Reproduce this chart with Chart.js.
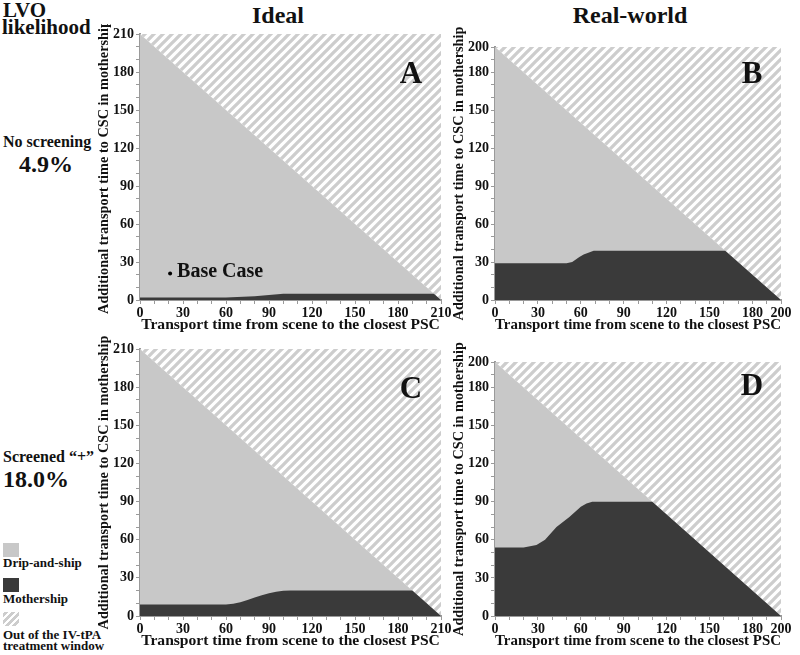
<!DOCTYPE html>
<html>
<head>
<meta charset="utf-8">
<script src="https://cdn.jsdelivr.net/npm/chart.js@4"></script>
<style>
  body { margin: 0; background: #fff; }
  #wrap { position: relative; width: 800px; height: 655px; font-family: "Liberation Serif", serif; font-weight: bold; color: #111; }
  #wrap canvas { position: absolute; }
  .t { position: absolute; line-height: 1; white-space: nowrap; }
  .sw { position: absolute; left: 3px; width: 16px; height: 14px; }
</style>
</head>
<body>
<div id="wrap">
  <div class="t" style="left:3px;top:0px;font-size:21px">LVO</div>
  <div class="t" style="left:2px;top:17px;font-size:21px">likelihood</div>
  <div class="t" style="left:3px;top:134px;font-size:16px">No screening</div>
  <div class="t" style="left:0;width:92px;text-align:center;top:152px;font-size:24px">4.9%</div>
  <div class="t" style="left:3px;top:449px;font-size:16px">Screened “+”</div>
  <div class="t" style="left:3px;top:467px;font-size:24px">18.0%</div>
  <div class="t" style="left:250px;width:56px;text-align:center;top:3px;font-size:24px">Ideal</div>
  <div class="t" style="left:560px;width:140px;text-align:center;top:3px;font-size:24px">Real-world</div>

  <div class="sw" style="top:543px;background:#c8c8c8"></div>
  <div class="t" style="left:3px;top:556px;font-size:13px">Drip-and-ship</div>
  <div class="sw" style="top:578px;background:#3a3a3a"></div>
  <div class="t" style="left:3px;top:592px;font-size:13px">Mothership</div>
  <div class="sw" style="top:612px;background:repeating-linear-gradient(-45deg,#fff 0 2.5px,#cdcdcd 2.5px 5px)"></div>
  <div class="t" style="left:3px;top:628px;font-size:13px">Out of the IV-tPA</div>
  <div class="t" style="left:3px;top:639px;font-size:13px">treatment window</div>

  <canvas id="cA" width="360" height="312" style="left:92px;top:24px"></canvas>
  <canvas id="cB" width="353" height="312" style="left:447px;top:24px"></canvas>
  <canvas id="cC" width="360" height="320" style="left:92px;top:332px"></canvas>
  <canvas id="cD" width="353" height="320" style="left:447px;top:332px"></canvas>
</div>
<script>
// time windows (minutes)
const idealMax = 210;
const realMax = 200;
const idealTicks = [0, 30, 60, 90, 120, 150, 180, 210];
const realTicks = [0, 30, 60, 90, 120, 150, 180, 200];

// mothership-preferred boundary (transport time to PSC -> additional time to CSC)
const aTime = [0, 60, 80, 90, 100, 205, 210];
const aMother = [2, 2, 3, 4, 5, 5, 0];
const bTime = [0, 50, 54, 59, 62, 69, 161, 200];
const bMother = [29, 29, 30, 34, 36, 39, 39, 0];
const cTime = [0, 60, 65, 70, 75, 80, 85, 90, 95, 100, 105, 190, 210];
const cMother = [9, 9, 9.6, 10.8, 12.5, 14.5, 16.3, 17.8, 19, 19.8, 20, 20, 0];
const dTime = [0, 20, 29, 35, 43, 52, 60, 64, 68, 110, 200];
const dMother = [54, 54, 56, 60, 70, 78, 86, 88.5, 90, 90, 0];

// base case
const baseX = [21];
const baseY = [21];

const light = "#c8c8c8";
const dark = "#3a3a3a";
const fontFam = "'Liberation Serif', serif";

function hatch() {
  const c = document.createElement("canvas");
  c.width = c.height = 9;
  const g = c.getContext("2d");
  g.fillStyle = "#fff";
  g.fillRect(0, 0, 9, 9);
  g.strokeStyle = "#cdcdcd";
  g.lineWidth = 3.3;
  g.beginPath();
  g.moveTo(-2, 11); g.lineTo(11, -2);
  g.moveTo(-3, 3); g.lineTo(3, -3);
  g.moveTo(6, 12); g.lineTo(12, 6);
  g.stroke();
  return g.createPattern(c, "repeat");
}

const panelMarks = {
  id: "panelMarks",
  afterDatasetsDraw(chart, args, opts) {
    const { ctx, chartArea } = chart;
    ctx.save();
    ctx.fillStyle = "#111";
    ctx.font = "bold 31px " + fontFam;
    ctx.textAlign = "center";
    ctx.textBaseline = "alphabetic";
    ctx.fillText(opts.letter, chartArea.right - opts.dx, chartArea.top + opts.dy);
    if (opts.label) {
      const xs = chart.scales.x, ys = chart.scales.y;
      ctx.font = "bold 20px " + fontFam;
      ctx.textAlign = "left";
      ctx.fillText(opts.label, xs.getPixelForValue(baseX[0]) + 7, ys.getPixelForValue(baseY[0]) + 4);
    }
    ctx.restore();
  },
};

function pts(xs, ys) {
  return xs.map((x, i) => ({ x: x, y: ys[i] }));
}

function panel(id, max, tickList, time, mother, marks, pad) {
  const diag = pts([0, max], [max, 0]);
  const tickFont = { family: fontFam, size: 14, weight: "bold" };
  const lbl = (v) => (tickList.includes(v) ? v : "");
  return new Chart(document.getElementById(id), {
    type: "line",
    data: {
      datasets: [
        {
          label: "Base Case",
          data: marks.label ? pts(baseX, baseY) : [],
          showLine: false,
          pointRadius: 2,
          pointBackgroundColor: "#000",
          pointBorderWidth: 0,
        },
        {
          label: "Mothership",
          data: pts(time, mother),
          fill: "origin",
          backgroundColor: dark,
          borderColor: "transparent",
          borderWidth: 0,
          pointRadius: 0,
          tension: 0,
        },
        {
          label: "Drip-and-ship",
          data: diag,
          fill: "origin",
          backgroundColor: light,
          borderColor: "transparent",
          borderWidth: 0,
          pointRadius: 0,
        },
        {
          label: "Out of the IV-tPA treatment window",
          data: diag,
          fill: "end",
          backgroundColor: hatch(),
          borderColor: "transparent",
          borderWidth: 0,
          pointRadius: 0,
        },
      ],
    },
    plugins: [panelMarks],
    options: {
      responsive: false,
      animation: false,
      events: [],
      layout: { padding: { top: pad.top, right: pad.right, left: 0, bottom: 0 } },
      plugins: {
        legend: { display: false },
        tooltip: { enabled: false },
        panelMarks: marks,
      },
      scales: {
        x: {
          type: "linear",
          min: 0,
          max: max,
          border: { color: "#9a9a9a", width: 2 },
          grid: { drawOnChartArea: false, color: "#9a9a9a", tickLength: 4 },
          ticks: { stepSize: 10, autoSkip: false, maxRotation: 0, padding: 1, color: "#111", font: tickFont, callback: lbl },
          title: { display: true, text: "Transport time from scene to the closest PSC", color: "#111", font: { family: fontFam, size: 15.6, weight: "bold" }, padding: { top: 0, bottom: 2 } },
          afterFit: (s) => { s.height = 36; s.paddingLeft = 0; s.paddingRight = 0; },
        },
        y: {
          type: "linear",
          min: 0,
          max: max,
          border: { color: "#9a9a9a", width: 2 },
          grid: { drawOnChartArea: false, color: "#9a9a9a", tickLength: 4 },
          ticks: { stepSize: 10, autoSkip: false, padding: 2, color: "#111", font: tickFont, callback: lbl },
          title: { display: true, text: "Additional transport time to CSC in mothership", color: "#111", font: { family: fontFam, size: 14.3, weight: "bold" }, padding: { top: 4, bottom: 0 } },
          afterFit: (s) => { s.width = 48; s.paddingTop = 0; s.paddingBottom = 0; },
        },
      },
    },
  });
}

panel("cA", idealMax, idealTicks, aTime, aMother, { letter: "A", dx: 30, dy: 49, label: "Base Case" }, { top: 10, right: 11 });
panel("cB", realMax, realTicks, bTime, bMother, { letter: "B", dx: 29, dy: 36 }, { top: 23, right: 19 });
panel("cC", idealMax, idealTicks, cTime, cMother, { letter: "C", dx: 30, dy: 49 }, { top: 17, right: 11 });
panel("cD", realMax, realTicks, dTime, dMother, { letter: "D", dx: 29, dy: 33 }, { top: 30, right: 19 });
</script>
</body>
</html>
